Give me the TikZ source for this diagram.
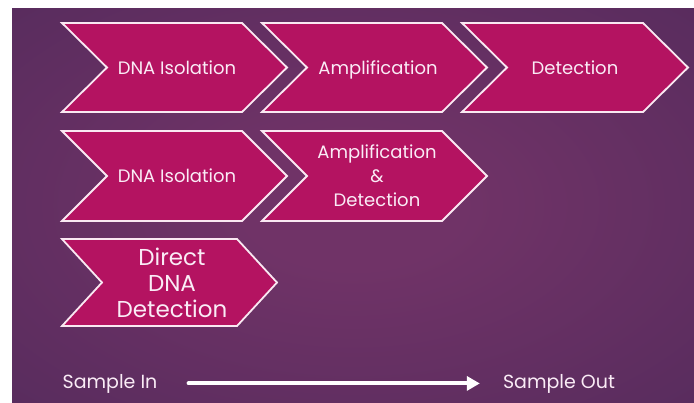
\documentclass[tikz,border=0pt]{standalone}
\usepackage{fontspec}
\setmainfont{Poppins}
\usetikzlibrary{arrows.meta}
\definecolor{chevfill}{RGB}{180,19,97}
\definecolor{chevline}{RGB}{250,232,242}
\definecolor{bginner}{RGB}{112,51,103}
\definecolor{bgouter}{RGB}{58,35,82}
\definecolor{txt}{RGB}{250,236,246}
\pgfdeclareradialshading{bgshade}{\pgfpoint{0bp}{0bp}}{color(0bp)=(bginner); color(8bp)=(bginner); color(72bp)=(bgouter)}
\tikzset{
  chevbox/.style={fill=chevfill, draw=chevline, line width=1.8pt, line join=miter},
  lbl/.style={text=txt, inner sep=0pt, align=center, font=\fontsize{18}{24}\selectfont},
  one/.style={lbl, anchor=base},
  biglbl/.style={text=txt, inner sep=0pt, align=center, font=\fontsize{23}{26}\selectfont},
  flow/.style={draw=white, line width=4pt, line cap=round, -{Triangle[length=13pt,width=14pt]}}
}
\newcommand{\chevshape}[5]{% x, ytop, w, h, d
  \draw[chevbox] (#1,#2) -- (#1+#3-#5,#2) -- (#1+#3,#2+#4/2) -- (#1+#3-#5,#2+#4)
    -- (#1,#2+#4) -- (#1+#5,#2+#4/2) -- cycle;}
\begin{document}
\begin{tikzpicture}[x=1pt,y=-1pt]
\useasboundingbox (0,0) rectangle (694,402);
\shade[shading=bgshade] (12,8) rectangle (694,402);
% row 1
\chevshape{62}{23}{225}{89}{45}
\chevshape{262}{23}{225}{89}{45}
\chevshape{462}{23}{226}{89}{45}
\node[one] (r1a) at (177,74.5) {DNA Isolation};
\node[one] (r1b) at (378,74.5) {Amplification};
\node[one] (r1c) at (575,74.5) {Detection};
% row 2
\chevshape{62}{131}{225}{90}{45}
\chevshape{262}{131}{225}{90}{45}
\node[one] (r2a) at (177,182.5) {DNA Isolation};
\node[lbl] (r2b) at (377,176) {Amplification\\\&\\Detection};
% row 3
\chevshape{62}{239}{215}{87}{40}
\node[biglbl] (r3a) at (172,283) {Direct\\DNA\\Detection};
% bottom
\node[one, font=\fontsize{19}{22}\selectfont] (sin) at (110,388) {Sample In};
\node[one, font=\fontsize{19}{22}\selectfont] (sout) at (559,388) {Sample Out};
\draw[flow, shorten <=31pt, shorten >=23pt] (sin.east) -- (sout.west);
\end{tikzpicture}
\end{document}
